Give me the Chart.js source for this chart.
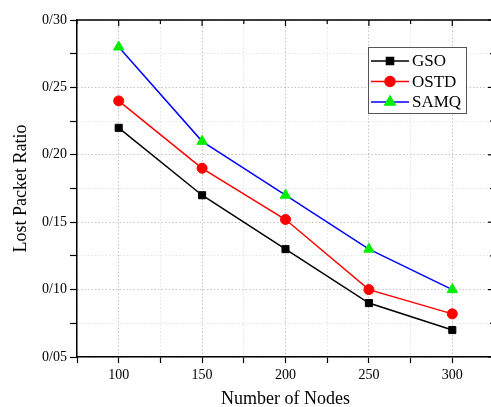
<!DOCTYPE html>
<html>
<head>
<meta charset="utf-8">
<script src="https://cdn.jsdelivr.net/npm/chart.js@4.4.1/dist/chart.umd.min.js"></script>
<style>
  html, body { margin: 0; padding: 0; background: #fff; overflow: hidden; }
  #wrap { width: 501px; height: 407px; }
</style>
</head>
<body>
<div id="wrap"><canvas id="lossChart" width="501" height="407"></canvas></div>
<script>
// data
const nodes = [100, 150, 200, 250, 300];
const gsoLoss = [0.22, 0.17, 0.13, 0.09, 0.07];
const ostdLoss = [0.24, 0.19, 0.152, 0.10, 0.082];
const samqLoss = [0.28, 0.21, 0.17, 0.13, 0.10];
const seriesNames = ['GSO', 'OSTD', 'SAMQ'];

const SERIF = '"Liberation Serif", "DejaVu Serif", serif';

function toPoints(ys) {
    return nodes.map((x, i) => ({ x: x, y: ys[i] }));
}

// y labels are written like 0/25 in the original
function slashLabel(v) {
    const k = Math.round(v * 1000);
    if (k % 50 !== 0) return '';
    return (k / 1000).toFixed(2).replace('.', '/');
}

function isMajorX(v) { return Math.round(v) % 50 === 0; }
function isMajorY(v) { return Math.round(v * 1000) % 50 === 0; }

// frame on top + inward ticks, and the legend box inside the plot
const framePlugin = {
    id: 'frame',
    afterDraw(chart) {
        const { ctx, chartArea: a, scales } = chart;
        ctx.save();
        ctx.strokeStyle = '#000';
        ctx.lineWidth = 1.5;
        ctx.beginPath();
        ctx.moveTo(a.left, a.top);
        ctx.lineTo(a.right, a.top);
        ctx.lineTo(a.right, a.bottom);
        ctx.stroke();
        ctx.lineWidth = 1.2;
        scales.x.ticks.forEach(t => {
            const px = scales.x.getPixelForValue(t.value);
            const len = isMajorX(t.value) ? 6 : 4;
            ctx.beginPath();
            ctx.moveTo(px, a.top);
            ctx.lineTo(px, a.top + len);
            ctx.stroke();
        });
        scales.y.ticks.forEach(t => {
            const py = scales.y.getPixelForValue(t.value);
            const len = isMajorY(t.value) ? 6 : 4;
            ctx.beginPath();
            ctx.moveTo(a.right, py);
            ctx.lineTo(a.right - len, py);
            ctx.stroke();
        });

        // legend
        const bx = 368, by = 47, bw = 98, bh = 66;
        ctx.fillStyle = '#fff';
        ctx.fillRect(bx, by, bw, bh);
        ctx.strokeStyle = '#555';
        ctx.lineWidth = 1;
        ctx.strokeRect(bx + 0.5, by + 0.5, bw, bh);
        chart.data.datasets.forEach((ds, i) => {
            const y = by + 14 + i * 20.5;
            ctx.strokeStyle = ds.borderColor;
            ctx.lineWidth = 1.5;
            ctx.beginPath();
            ctx.moveTo(bx + 3, y);
            ctx.lineTo(bx + 41, y);
            ctx.stroke();
            ctx.fillStyle = ds.pointBackgroundColor;
            ctx.strokeStyle = ds.pointBorderColor;
            Chart.helpers.drawPoint(ctx, {
                pointStyle: ds.pointStyle,
                radius: ds.pointRadius,
                rotation: 0,
                borderWidth: 1
            }, bx + 22, y);
            ctx.fillStyle = '#000';
            ctx.font = '17px ' + SERIF;
            ctx.textBaseline = 'middle';
            ctx.textAlign = 'left';
            ctx.fillText(ds.label, bx + 44, y + 1);
        });
        ctx.restore();
    }
};

const gridColor = (ctx, v) => {
    const val = ctx.tick ? ctx.tick.value : 0;
    return v(val) ? '#c4c4c4' : '#e4e4e4';
};

const chart = new Chart(document.getElementById('lossChart'), {
    type: 'line',
    data: {
        datasets: [
            {
                label: seriesNames[0],
                data: toPoints(gsoLoss),
                borderColor: '#000',
                pointBackgroundColor: '#000',
                pointBorderColor: '#000',
                pointStyle: 'rect',
                pointRadius: 5
            },
            {
                label: seriesNames[1],
                data: toPoints(ostdLoss),
                borderColor: '#ff0000',
                pointBackgroundColor: '#ff0000',
                pointBorderColor: '#ff0000',
                pointStyle: 'circle',
                pointRadius: 5
            },
            {
                label: seriesNames[2],
                data: toPoints(samqLoss),
                borderColor: '#0000ff',
                pointBackgroundColor: '#00ee00',
                pointBorderColor: '#00ee00',
                pointStyle: 'triangle',
                pointRadius: 6
            }
        ]
    },
    options: {
        responsive: false,
        animation: false,
        devicePixelRatio: 1,
        layout: { padding: { top: 20, right: 0, left: 0, bottom: 0 } },
        elements: {
            line: { borderWidth: 1.5, tension: 0 },
            point: { borderWidth: 1 }
        },
        plugins: {
            legend: { display: false },
            tooltip: { enabled: false }
        },
        scales: {
            x: {
                type: 'linear',
                min: 75,
                max: 325,
                afterFit(s) { s.height = 50; },
                ticks: {
                    stepSize: 25,
                    autoSkip: false,
                    maxRotation: 0,
                    color: '#000',
                    padding: 4,
                    font: { family: SERIF, size: 14 },
                    callback: v => (isMajorX(v) && v >= 100 && v <= 300) ? String(v) : ''
                },
                grid: {
                    color: ctx => gridColor(ctx, isMajorX),
                    lineWidth: 1,
                    tickColor: '#000',
                    tickLength: 6,
                    tickWidth: 1.2
                },
                border: { color: '#000', width: 1.5, dash: [1.5, 2] },
                title: {
                    display: true,
                    text: 'Number of Nodes',
                    color: '#000',
                    font: { family: SERIF, size: 18 },
                    padding: { top: 4, bottom: -3 }
                }
            },
            y: {
                min: 0.05,
                max: 0.30,
                afterFit(s) { s.width = 77; },
                ticks: {
                    stepSize: 0.025,
                    autoSkip: false,
                    color: '#000',
                    padding: 3,
                    font: { family: SERIF, size: 14 },
                    callback: v => slashLabel(v)
                },
                grid: {
                    color: ctx => gridColor(ctx, isMajorY),
                    lineWidth: 1,
                    tickColor: '#000',
                    tickLength: 7,
                    tickWidth: 1.2
                },
                border: { color: '#000', width: 1.5, dash: [1.5, 2] },
                title: {
                    display: true,
                    text: 'Lost Packet Ratio',
                    color: '#000',
                    font: { family: SERIF, size: 18 },
                    padding: { top: 10, bottom: 4 }
                }
            }
        }
    },
    plugins: [framePlugin]
});
</script>
</body>
</html>
